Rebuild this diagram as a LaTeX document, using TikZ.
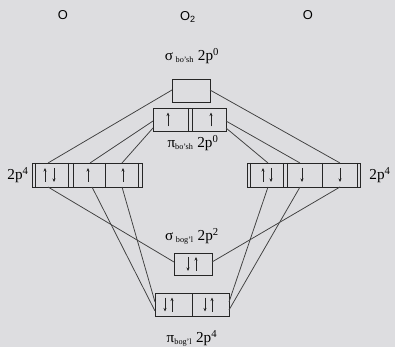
\documentclass[tikz,border=0pt]{standalone}
\usepackage{fontspec}
\setmainfont{Liberation Serif}
\setsansfont{Liberation Sans}
\usetikzlibrary{arrows.meta}

\definecolor{paper}{RGB}{221,221,224}
\tikzset{
  orb/.style={draw=black!85, line width=0.65pt},
  link/.style={draw=black!75, line width=0.65pt},
  spin/.style={draw=black!85, line width=0.7pt, -{Stealth[length=3pt,width=2.6pt]}},
  lbl/.style={font=\fontsize{13}{15}\selectfont, inner sep=0pt},
  atom/.style={font=\sffamily\fontsize{11}{13}\selectfont, inner sep=0pt},
}
% spin arrows: x, centre y of the cell
\newcommand{\spinup}[2]{\draw[spin] (#1,#2+7) -- (#1,#2-7);}
\newcommand{\spindown}[2]{\draw[spin] (#1,#2-7) -- (#1,#2+7);}

\begin{document}
\begin{tikzpicture}[x=0.03cm, y=-0.03cm]

  \fill[paper] (0,0) rectangle (395,347);
  \useasboundingbox (0,0) rectangle (395,347);

  % connection points
  \coordinate (SAl) at (172,90);
  \coordinate (SAr) at (210,90);
  \coordinate (PAl) at (153,121);
  \coordinate (PAlb) at (153,128);
  \coordinate (PAr) at (226,121);
  \coordinate (PArb) at (226,128);
  \coordinate (L1t) at (48,163);
  \coordinate (L2t) at (90,163);
  \coordinate (L3t) at (122,163);
  \coordinate (L1b) at (48,187);
  \coordinate (L2b) at (92,187);
  \coordinate (L3b) at (122,187);
  \coordinate (R1t) at (268,163);
  \coordinate (R2t) at (300,163);
  \coordinate (R3t) at (340,163);
  \coordinate (R1b) at (268,187);
  \coordinate (R2b) at (300,187);
  \coordinate (R3b) at (340,187);
  \coordinate (SBl) at (174,262);
  \coordinate (SBr) at (212,262);
  \coordinate (PBl) at (155,311);
  \coordinate (PBlb) at (155,302);
  \coordinate (PBr) at (229,302);
  \coordinate (PBrb) at (229,310);

  \node[atom] (atomL) at (63,15) {O};
  \node[atom] (mol) at (188,17) {O\textsubscript{2}};
  \node[atom] (atomR) at (308,15) {O};
  \node[lbl] (sa) at (192,56) {σ\,\textsubscript{\scriptsize bo'sh} 2p\textsuperscript{0}};
  \node[lbl] (pa) at (193,143) {π\textsubscript{\scriptsize bo'sh} 2p\textsuperscript{0}};
  \node[lbl] (sb) at (192,236) {σ\,\textsubscript{\scriptsize bog'l} 2p\textsuperscript{2}};
  \node[lbl] (pb) at (192,338) {π\textsubscript{\scriptsize bog'l} 2p\textsuperscript{4}};
  \node[lbl] (pL) at (18,175) {2p\textsuperscript{4}};
  \node[lbl] (pR) at (380,175) {2p\textsuperscript{4}};

  % orbital boxes
  \draw[orb] (172,79) rectangle (210,102);
  \draw[orb] (153,108) rectangle (226,131);
  \draw[orb] (188,108) -- (188,131) (192,108) -- (192,131);
  \draw[orb] (32,163) rectangle (142,187);
  \foreach \xx in {35,68,73,105,138}
    \draw[orb] (\xx,163) -- (\xx,187);
  \draw[orb] (247,163) rectangle (360,187);
  \foreach \xx in {250,283,287,322,357}
    \draw[orb] (\xx,163) -- (\xx,187);
  \draw[orb] (174,253) rectangle (212,275);
  \draw[orb] (155,293) rectangle (229,316);
  \draw[orb] (192,293) -- (192,316);

  % electrons
  \spinup{168}{119.5} \spinup{211}{119.5}
  \spinup{45}{175} \spindown{54}{175} \spinup{88}{175} \spinup{123}{175}
  \spinup{263}{175} \spindown{271}{175} \spindown{302}{175} \spindown{340}{175}
  \spindown{188}{264} \spinup{196}{264}
  \spindown{165}{304.5} \spinup{172}{304.5}
  \spindown{205}{304.5} \spinup{212}{304.5}

  \draw[link] (SAl) -- (L1t);
  \draw[link] (SAr) -- (R3t);
  \draw[link] (PAl) -- (L2t);
  \draw[link] (PAlb) -- (L3t);
  \draw[link] (PAr) -- (R2t);
  \draw[link] (PArb) -- (R1t);
  \draw[link] (L1b) -- (SBl);
  \draw[link] (R3b) -- (SBr);
  \draw[link] (L2b) -- (PBl);
  \draw[link] (L3b) -- (PBlb);
  \draw[link] (R1b) -- (PBr);
  \draw[link] (R2b) -- (PBrb);

\end{tikzpicture}
\end{document}
